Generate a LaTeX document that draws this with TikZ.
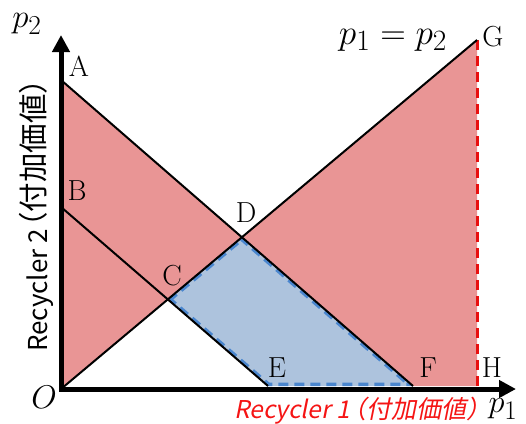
\documentclass[tikz,border=0pt]{standalone}
\usepackage{graphicx}
\usepackage{fontspec}
\newfontfamily\jpsans{Noto Sans CJK JP}
\newfontfamily\jpsansit[FakeSlant=0.2]{Noto Sans CJK JP}
\usetikzlibrary{arrows.meta}
\definecolor{regred}{RGB}{233,149,149}
\definecolor{regblue}{RGB}{173,195,221}
\definecolor{edgeblue}{RGB}{74,134,206}
\definecolor{labred}{RGB}{245,20,20}
\definecolor{guidered}{RGB}{232,16,16}
\tikzset{
  axisline/.style={line width=5pt,-{Triangle[length=17pt,width=17pt]}},
  curveline/.style={line width=2pt,black},
  ptlabel/.style={font=\fontsize{29}{32}\selectfont,inner sep=0pt},
  mathlabel/.style={font=\fontsize{24.88}{28}\selectfont,inner sep=0pt},
  bluedash/.style={edgeblue,line width=7pt,dash pattern=on 10pt off 6pt},
  reddash/.style={guidered,line width=3pt,dash pattern=on 10pt off 6pt},
}
\begin{document}
\begin{tikzpicture}[x=1pt,y=-1pt]
\useasboundingbox (0,0) rectangle (526,423);
% key points
\coordinate (O) at (61,389);
\coordinate (A) at (61,80);
\coordinate (B) at (61,207);
\coordinate (G) at (477,40);
\coordinate (H) at (477,386);
\coordinate (F) at (413,386);
\coordinate (E) at (268,386);
\coordinate (D) at (intersection of A--F and O--G);
\coordinate (C) at (intersection of B--E and O--G);
\coordinate (ytip) at (61,35);
\coordinate (xtip) at (516,389);
\coordinate (ybase) at (61,391);
\coordinate (xbase) at (59,389);
% regions
\fill[regred] (O) -- (A) -- (D) -- cycle;
\fill[regred] (D) -- (G) -- (H) -- (F) -- cycle;
\fill[regblue] (C) -- (D) -- (F) -- (E) -- cycle;
\begin{scope}
  \clip (C) -- (D) -- (F) -- (E) -- cycle;
  \draw[bluedash] (C) -- (D) -- (F) -- (E) -- cycle;
\end{scope}
\draw[reddash] (G) -- (H);
% lines
\draw[curveline] (A) -- (F);
\draw[curveline] (B) -- (E);
\draw[curveline] (O) -- (G);
% axes
\draw[axisline] (ybase) -- (ytip);
\draw[axisline] (xbase) -- (xtip);
% labels
\node[ptlabel] (lA) at (79,66) {A};
\node[ptlabel] (lB) at (77,191) {B};
\node[ptlabel] (lC) at (172,276) {C};
\node[ptlabel] (lD) at (246,213) {D};
\node[ptlabel] (lE) at (277,368) {E};
\node[ptlabel] (lF) at (428,368) {F};
\node[ptlabel] (lH) at (492,368) {H};
\node[ptlabel] (lG) at (493,37) {G};
\node[mathlabel] (leq) at (393,40) {\scalebox{1.42}{$p_1=p_2$}};
\node[mathlabel] (lp2) at (27,24) {\scalebox{1.32}{$p_2$}};
\node[mathlabel] (lp1) at (503,409) {\scalebox{1.3}{$p_1$}};
\node[mathlabel] (lO) at (44,397) {\scalebox{1.32}{$O$}};
\node[inner sep=0pt,rotate=90,anchor=base west,font=\jpsans] (ylab) at (47,352) {{\fontsize{26}{29}\selectfont Recycler 2}\kern-13pt\raisebox{2.5pt}{\fontsize{29.5}{32}\selectfont（付加価値）}};
\node[inner sep=0pt,anchor=base west,text=labred,font=\jpsansit] (xlab) at (234,418) {{\fontsize{24.5}{27}\selectfont Recycler 1}\kern-9pt{\fontsize{25}{28}\selectfont（付加価値）\kern-15pt}};
\end{tikzpicture}
\end{document}
